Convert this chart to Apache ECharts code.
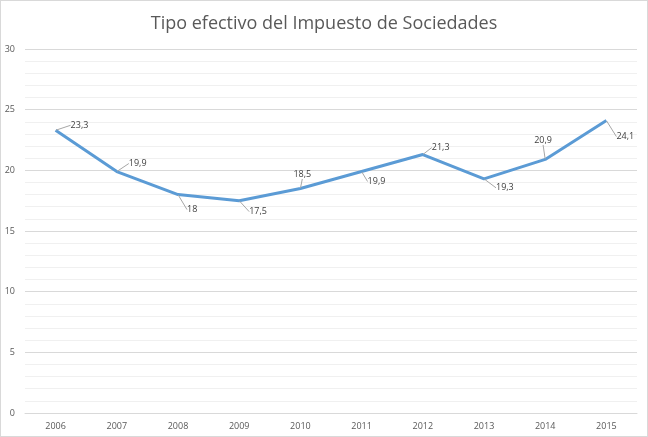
<!DOCTYPE html>
<html><head><meta charset="utf-8">
<script src="https://cdn.jsdelivr.net/npm/echarts@6/dist/echarts.min.js"></script>
<style>html,body{margin:0;padding:0;background:#fff}#c{width:646px;height:435px;border:1px solid #D9D9D9}</style>
</head><body><div id="c"></div>
<script>
var years = ['2006','2007','2008','2009','2010','2011','2012','2013','2014','2015'];
var rates = [23.3, 19.9, 18, 17.5, 18.5, 19.9, 21.3, 19.3, 20.9, 24.1];
var yTicks = [0, 5, 10, 15, 20, 25, 30];
// label offsets (style): [dx to label left edge, dy to label centre] relative to data point
var labelOffsets = [[15,-5],[12,-8],[9,15],[10,11],[-7,-14],[6,10],[9,-7],[12,9],[-11,-19],[10,16]];

var chart = echarts.init(document.getElementById('c'));
chart.setOption({
  animation: false,
  title: {text: 'Tipo efectivo del Impuesto de Sociedades', left: 'center', top: 9,
    textStyle: {fontFamily: 'Open Sans', fontWeight: 'normal', fontSize: 18, color: '#595959'}},
  grid: {left: 24, right: 10, top: 48, bottom: 23},
  xAxis: {type: 'category', data: years, boundaryGap: true,
    axisLine: {show: true, lineStyle: {color: '#D9D9D9'}}, axisTick: {show: false},
    axisLabel: {color: '#595959', fontSize: 9, fontFamily: 'Open Sans', margin: 9}},
  yAxis: {type: 'value', min: yTicks[0], max: yTicks[yTicks.length-1], interval: 5,
    axisLine: {show: false}, axisTick: {show: false},
    axisLabel: {color: '#595959', fontSize: 9, fontFamily: 'Open Sans', margin: 10},
    splitLine: {lineStyle: {color: '#D9D9D9'}},
    minorTick: {show: false, splitNumber: 5},
    minorSplitLine: {show: true, lineStyle: {color: '#F0F0F0'}}},
  series: [{type: 'line', data: rates, showSymbol: true, symbol: 'circle', symbolSize: 1,
    lineStyle: {color: '#5B9BD5', width: 3}, itemStyle: {color: 'rgba(0,0,0,0)', borderWidth: 0},
    label: {show: true, position: 'inside', distance: 0, color: '#404040', fontSize: 9, fontFamily: 'Open Sans',
      formatter: function(p){ return String(p.value).replace('.', ','); }},
    labelLine: {show: true, lineStyle: {color: '#A6A6A6', width: 1}},
    labelLayout: function(p){
      var o = labelOffsets[p.dataIndex];
      var w = p.labelRect.width;
      return {dx: o[0] + w/2, dy: o[1]};
    }
  }]
});
</script></body></html>
